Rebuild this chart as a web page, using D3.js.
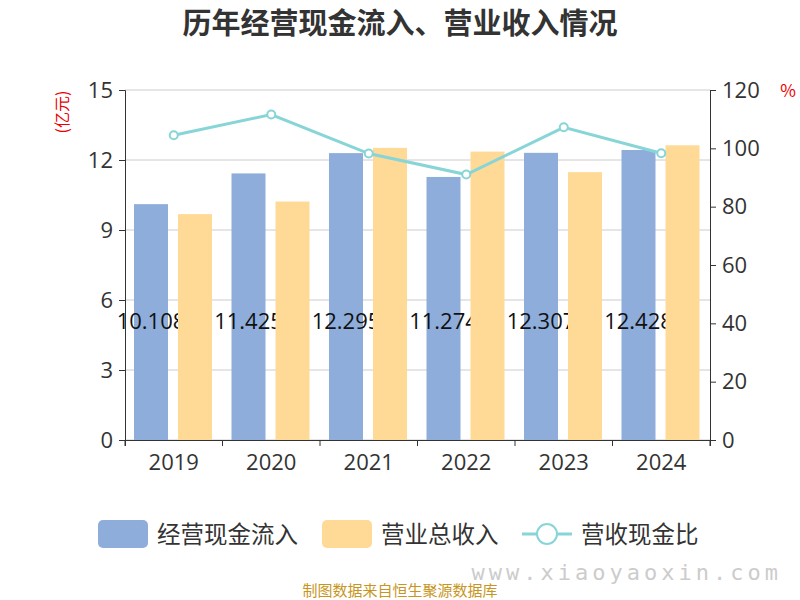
<!DOCTYPE html>
<html><head><meta charset="utf-8">
<script src="https://cdn.jsdelivr.net/npm/d3@7"></script>
<style>body{margin:0;background:#fff;font-family:"Noto Sans CJK SC","Noto Sans",sans-serif}</style>
</head><body>
<svg id="chart" width="800" height="600"></svg>
<script>
// 数据
const years = ["2019", "2020", "2021", "2022", "2023", "2024"];
const cashIn = [10.108, 11.425, 12.295, 11.274, 12.307, 12.428];
const revenue = [9.68, 10.22, 12.52, 12.36, 11.48, 12.63];
const ratio = [104.5, 111.6, 98.2, 91.0, 107.2, 98.3];
const leftTicks = [0, 3, 6, 9, 12, 15];
const rightTicks = [0, 20, 40, 60, 80, 100, 120];

const svg = d3.select("#chart");
const mL = 125, mR = 710, mT = 90, mB = 440;

const x = d3.scaleBand().domain(years).range([mL, mR]);
const y = d3.scaleLinear().domain([0, 15]).range([mB, mT]);
const y2 = d3.scaleLinear().domain([0, 120]).range([mB, mT]);

// 标题
svg.append("text").attr("x", 400).attr("y", 34).attr("text-anchor", "middle")
    .attr("font-size", 29).attr("font-weight", "bold").attr("fill", "#333")
    .text("历年经营现金流入、营业收入情况");

// 网格线
svg.selectAll(".grid").data(leftTicks).join("line")
    .attr("x1", mL).attr("x2", mR)
    .attr("y1", d => y(d)).attr("y2", d => y(d))
    .attr("stroke", "#ccc").attr("stroke-width", 1);

// 柱子
const bw = 34;
svg.selectAll(".cash").data(years).join("rect")
    .attr("x", d => x(d) + 9).attr("width", bw)
    .attr("y", (d, i) => y(cashIn[i])).attr("height", (d, i) => mB - y(cashIn[i]))
    .attr("fill", "#8eaddb");

// 数据标签（被橙色柱遮挡）
svg.selectAll(".lbl").data(cashIn).join("text")
    .attr("x", (d, i) => x(years[i]) + 9 + bw / 2).attr("y", 329)
    .attr("text-anchor", "middle").attr("font-size", 22).attr("fill", "#111")
    .attr("font-family", "'Open Sans','Noto Sans',sans-serif")
    .text(d => d3.format(".3f")(d));

svg.selectAll(".rev").data(years).join("rect")
    .attr("x", d => x(d) + 53).attr("width", bw)
    .attr("y", (d, i) => y(revenue[i])).attr("height", (d, i) => mB - y(revenue[i]))
    .attr("fill", "#ffd996");

// 坐标轴
const axisL = svg.append("g").attr("transform", `translate(${mL},0)`)
    .call(d3.axisLeft(y).tickValues(leftTicks).tickSize(6).tickPadding(6));
const axisR = svg.append("g").attr("transform", `translate(${mR},0)`)
    .call(d3.axisRight(y2).tickValues(rightTicks).tickSize(6).tickPadding(6));
const axisB = svg.append("g").attr("transform", `translate(0,${mB})`)
    .call(d3.axisBottom(x).tickSize(6).tickPadding(8));
axisB.selectAll(".tick line").attr("transform", `translate(${x.bandwidth() / 2},0)`);
axisB.append("line").attr("x1", mL).attr("x2", mL).attr("y1", 0).attr("y2", 6).attr("stroke", "#333");
[axisL, axisR, axisB].forEach(a => {
    a.selectAll("path,line").attr("stroke", "#333");
    a.selectAll("text").attr("font-size", 22).attr("fill", "#333")
        .attr("font-family", "'Open Sans','Noto Sans',sans-serif");
});

// 单位
svg.append("text").attr("transform", "translate(68,112) rotate(-90)").attr("text-anchor", "middle")
    .attr("font-size", 16).attr("fill", "#e00").text("(亿元)");
svg.append("text").attr("x", 788).attr("y", 97).attr("text-anchor", "middle")
    .attr("font-size", 17).attr("fill", "#e00").text("%");

// 折线
const line = d3.line().x((d, i) => x(years[i]) + x.bandwidth() / 2).y(d => y2(d));
svg.append("path").datum(ratio).attr("d", line).attr("fill", "none")
    .attr("stroke", "#88d5d8").attr("stroke-width", 3);
svg.selectAll(".pt").data(ratio).join("circle")
    .attr("cx", (d, i) => x(years[i]) + x.bandwidth() / 2).attr("cy", d => y2(d)).attr("r", 4)
    .attr("fill", "#fff").attr("stroke", "#88d5d8").attr("stroke-width", 2);

// 图例
const lg = svg.append("g").attr("font-size", 23.5).attr("fill", "#333");
lg.append("rect").attr("x", 98).attr("y", 520).attr("width", 50).attr("height", 28).attr("rx", 5).attr("fill", "#8eaddb");
lg.append("text").attr("x", 157).attr("y", 543).text("经营现金流入");
lg.append("rect").attr("x", 322).attr("y", 520).attr("width", 50).attr("height", 28).attr("rx", 5).attr("fill", "#ffd996");
lg.append("text").attr("x", 381).attr("y", 543).text("营业总收入");
lg.append("line").attr("x1", 522).attr("x2", 572).attr("y1", 534).attr("y2", 534).attr("stroke", "#88d5d8").attr("stroke-width", 3);
lg.append("circle").attr("cx", 547).attr("cy", 534).attr("r", 10).attr("fill", "#fff").attr("stroke", "#88d5d8").attr("stroke-width", 2);
lg.append("text").attr("x", 581).attr("y", 543).text("营收现金比");

// 来源
svg.append("text").attr("x", 400).attr("y", 596).attr("text-anchor", "middle")
    .attr("font-size", 15).attr("fill", "#c8961e").text("制图数据来自恒生聚源数据库");
svg.append("text").attr("x", 782).attr("y", 580).attr("text-anchor", "end")
    .attr("font-size", 22).attr("fill", "#ccc").attr("letter-spacing", 4)
    .attr("font-family", "'DejaVu Sans Mono',monospace").text("www.xiaoyaoxin.com");
</script>
</body></html>
